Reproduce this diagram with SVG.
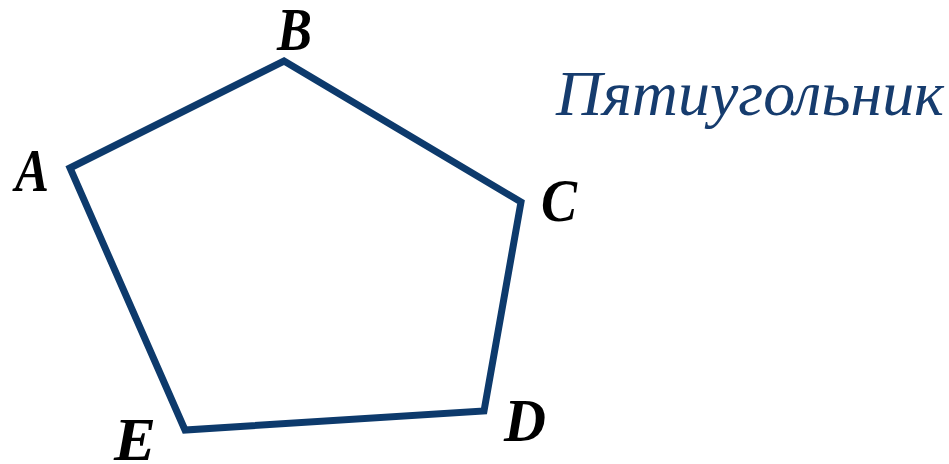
<svg xmlns="http://www.w3.org/2000/svg" width="949" height="464" viewBox="0 0 949 464">
<style>
.lbl{font-family:"Liberation Serif","DejaVu Serif",serif;font-weight:bold;font-style:italic;font-size:62px;fill:#000}
.title{font-family:"Liberation Serif","DejaVu Serif",serif;font-style:italic;font-size:64px;fill:#163c6e}
</style>
<rect width="949" height="464" fill="#fff"/>
<g id="connectors">
<polygon id="pentagon" points="70,168 284,61 521,202 484,411 185,430" fill="none" stroke="#0d3a6c" stroke-width="7" stroke-linejoin="miter"/>
</g>
<g id="A"><text class="lbl" x="15" y="191" textLength="34" lengthAdjust="spacingAndGlyphs">A</text></g>
<g id="B"><text class="lbl" x="277" y="50" textLength="35" lengthAdjust="spacingAndGlyphs">B</text></g>
<g id="C"><text class="lbl" x="541" y="221" textLength="36" lengthAdjust="spacingAndGlyphs">C</text></g>
<g id="D"><text class="lbl" x="504" y="441" textLength="42" lengthAdjust="spacingAndGlyphs">D</text></g>
<g id="E"><text class="lbl" x="114" y="460" textLength="42" lengthAdjust="spacingAndGlyphs">E</text></g>
<g id="title"><text class="title" x="556" y="115" textLength="388" lengthAdjust="spacingAndGlyphs">Пятиугольник</text></g>
</svg>
